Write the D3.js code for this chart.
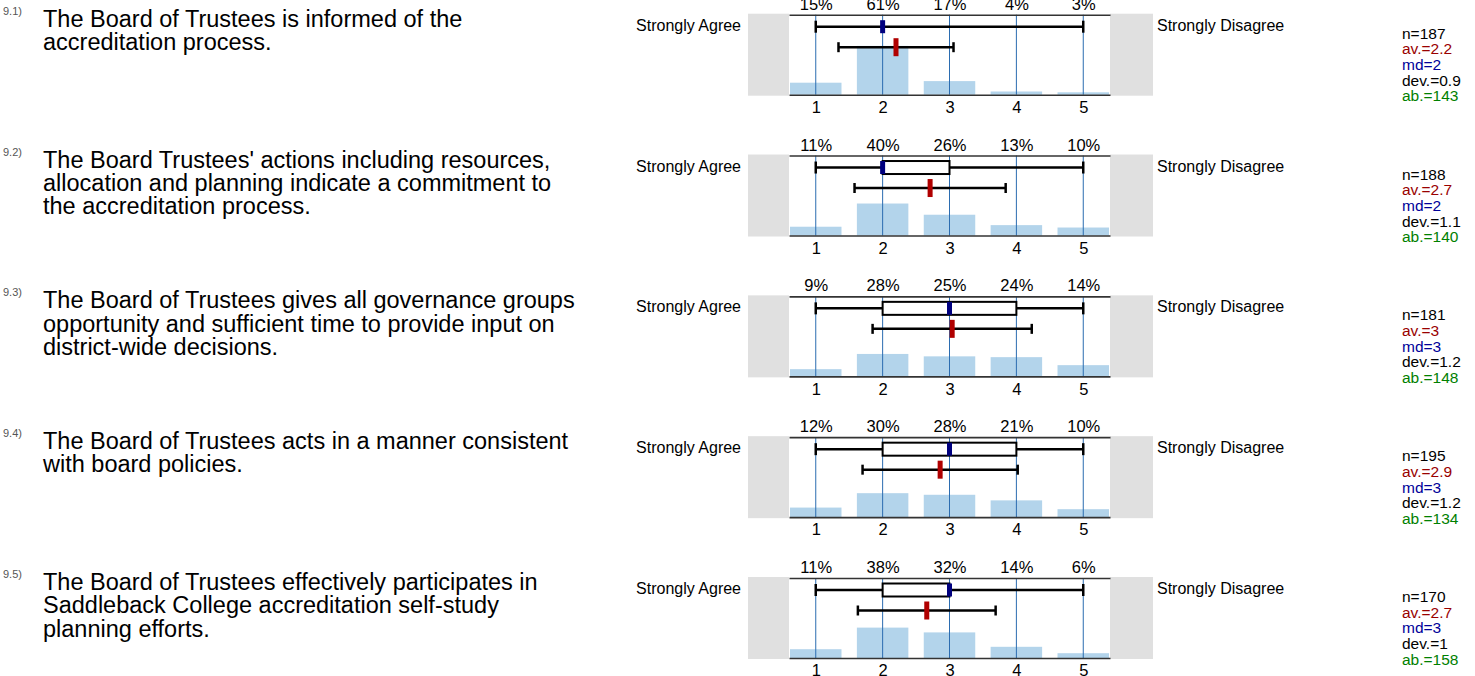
<!DOCTYPE html>
<html>
<head>
<meta charset="utf-8">
<script src="https://cdn.jsdelivr.net/npm/d3@7"></script>
<style>
body { margin: 0; background: #fff; }
text { font-family: "Liberation Sans", Arial, sans-serif; }
</style>
</head>
<body>
<div id="chart"></div>
<script>
var questionIds = ["9.1)", "9.2)", "9.3)", "9.4)", "9.5)"];
var questionLines = [
    ["The Board of Trustees is informed of the", "accreditation process."],
    ["The Board Trustees' actions including resources,", "allocation and planning indicate a commitment to", "the accreditation process."],
    ["The Board of Trustees gives all governance groups", "opportunity and sufficient time to provide input on", "district-wide decisions."],
    ["The Board of Trustees acts in a manner consistent", "with board policies."],
    ["The Board of Trustees effectively participates in", "Saddleback College accreditation self-study", "planning efforts."]
];
var scaleValues = [1, 2, 3, 4, 5];
var percents = [
    [15, 61, 17, 4, 3],
    [11, 40, 26, 13, 10],
    [9, 28, 25, 24, 14],
    [12, 30, 28, 21, 10],
    [11, 38, 32, 14, 6]
];
var counts = [187, 188, 181, 195, 170];
var means = [2.2, 2.71, 3.04, 2.86, 2.66];
var devs = [0.86, 1.13, 1.19, 1.16, 1.03];
var medians = [2, 2, 3, 3, 3];
var lowerQuartiles = [2, 2, 2, 2, 2];
var upperQuartiles = [2, 3, 4, 4, 3];
var minima = [1, 1, 1, 1, 1];
var maxima = [5, 5, 5, 5, 5];
var abstentions = [143, 140, 148, 134, 158];
var leftLabel = "Strongly Agree", rightLabel = "Strongly Disagree";

var width = 1475, height = 676;
var plotH = 80;

var svg = d3.select("#chart").append("svg")
    .attr("width", width)
    .attr("height", height)
    .style("display", "block");

var x = d3.scaleLinear().domain([0.6, 5.4]).range([789, 1110]);
var row = d3.scalePoint().domain(d3.range(questionIds.length)).range([14.7, 578]);
var y = d3.scaleLinear().domain([0, 100]).range([plotH, 0]);
var barW = x(1.77) - x(1);

var fmt = function(v) { return String(+v.toFixed(1)); };

var rows = svg.selectAll(".row")
    .data(d3.range(questionIds.length))
  .enter().append("g")
    .attr("class", "row")
    .attr("transform", function(i) { return "translate(0," + row(i) + ")"; });

// question text
rows.append("text")
    .attr("x", 3)
    .attr("y", 0)
    .attr("font-size", 11)
    .attr("fill", "#555")
    .text(function(i) { return questionIds[i]; });

rows.append("text")
    .attr("font-size", 23.5)
    .attr("fill", "#000")
    .selectAll("tspan")
    .data(function(i) { return questionLines[i]; })
  .enter().append("tspan")
    .attr("x", 43)
    .attr("y", function(d, k) { return 12 + k * 23.3; })
    .text(function(d) { return d; });

// grey end boxes
rows.append("rect")
    .attr("x", 748).attr("y", -1)
    .attr("width", x.range()[0] - 748).attr("height", plotH + 2)
    .attr("fill", "#e0e0e0");
rows.append("rect")
    .attr("x", x.range()[1]).attr("y", -1)
    .attr("width", 1153 - x.range()[1]).attr("height", plotH + 2)
    .attr("fill", "#e0e0e0");

rows.append("text")
    .attr("x", 741).attr("y", 16)
    .attr("text-anchor", "end")
    .attr("font-size", 16)
    .text(leftLabel);
rows.append("text")
    .attr("x", 1157).attr("y", 16)
    .attr("font-size", 16)
    .text(rightLabel);

// histogram bars
rows.selectAll(".bar")
    .data(function(i) { return percents[i].map(function(p, k) { return {v: scaleValues[k], p: p}; }); })
  .enter().append("rect")
    .attr("class", "bar")
    .attr("x", function(d) { return Math.max(x(d.v) - barW / 2, x.range()[0]); })
    .attr("width", function(d) { return Math.min(x(d.v) + barW / 2, x.range()[1]) - Math.max(x(d.v) - barW / 2, x.range()[0]); })
    .attr("y", function(d) { return y(d.p); })
    .attr("height", function(d) { return plotH - y(d.p); })
    .attr("fill", "#b3d4eb");

// vertical lines
rows.selectAll(".grid")
    .data(scaleValues)
  .enter().append("line")
    .attr("class", "grid")
    .attr("x1", function(d) { return x(d); }).attr("x2", function(d) { return x(d); })
    .attr("y1", 0).attr("y2", plotH)
    .attr("stroke", "#2b6cb0")
    .attr("stroke-width", 1);

// top axis with percentages, bottom axis with scale values
rows.each(function(i) {
    var g = d3.select(this);
    var top = g.append("g")
        .call(d3.axisTop(x).tickValues(scaleValues).tickSize(0).tickSizeOuter(0).tickPadding(5)
            .tickFormat(function(d, k) { return percents[i][k] + "%"; }));
    var bottom = g.append("g")
        .attr("transform", "translate(0," + plotH + ")")
        .call(d3.axisBottom(x).tickValues(scaleValues).tickSize(0).tickSizeOuter(0).tickPadding(6.5)
            .tickFormat(d3.format("d")));
    [top, bottom].forEach(function(a) {
        a.select(".domain").attr("stroke", "#333").attr("stroke-width", 1.6);
        a.selectAll("text").attr("font-size", 16.5).attr("fill", "#000")
            .attr("font-family", "'Liberation Sans', Arial, sans-serif");
    });

    // box plot
    var wy = 12;
    g.append("line")
        .attr("x1", x(minima[i])).attr("x2", x(maxima[i]))
        .attr("y1", wy).attr("y2", wy)
        .attr("stroke", "#000").attr("stroke-width", 2.5);
    [minima[i], maxima[i]].forEach(function(v) {
        g.append("line")
            .attr("x1", x(v)).attr("x2", x(v))
            .attr("y1", wy - 6).attr("y2", wy + 6)
            .attr("stroke", "#000").attr("stroke-width", 2.5);
    });
    g.append("rect")
        .attr("x", x(lowerQuartiles[i])).attr("y", wy - 6.5)
        .attr("width", x(upperQuartiles[i]) - x(lowerQuartiles[i])).attr("height", 13)
        .attr("fill", "#fff").attr("stroke", "#000").attr("stroke-width", 2);
    g.append("rect")
        .attr("x", x(medians[i]) - 2.5).attr("y", wy - 6.5)
        .attr("width", 5).attr("height", 13)
        .attr("fill", "#00007f");

    // mean +/- deviation
    var my = 32.5;
    g.append("line")
        .attr("x1", x(means[i] - devs[i])).attr("x2", x(means[i] + devs[i]))
        .attr("y1", my).attr("y2", my)
        .attr("stroke", "#000").attr("stroke-width", 2.5);
    [means[i] - devs[i], means[i] + devs[i]].forEach(function(v) {
        g.append("line")
            .attr("x1", x(v)).attr("x2", x(v))
            .attr("y1", my - 5).attr("y2", my + 5)
            .attr("stroke", "#000").attr("stroke-width", 2.5);
    });
    g.append("rect")
        .attr("x", x(means[i]) - 2.5).attr("y", my - 9)
        .attr("width", 5).attr("height", 18)
        .attr("fill", "#b00000");

    // statistics
    var stats = [
        {t: "n=" + counts[i], c: "#000"},
        {t: "av.=" + fmt(means[i]), c: "#990000"},
        {t: "md=" + medians[i], c: "#000099"},
        {t: "dev.=" + fmt(devs[i]), c: "#000"},
        {t: "ab.=" + abstentions[i], c: "#008000"}
    ];
    g.selectAll(".stat")
        .data(stats)
      .enter().append("text")
        .attr("class", "stat")
        .attr("x", 1402)
        .attr("y", function(d, k) { return 24 + k * 15.7; })
        .attr("font-size", 15.5)
        .attr("fill", function(d) { return d.c; })
        .text(function(d) { return d.t; });
});
</script>
</body>
</html>
